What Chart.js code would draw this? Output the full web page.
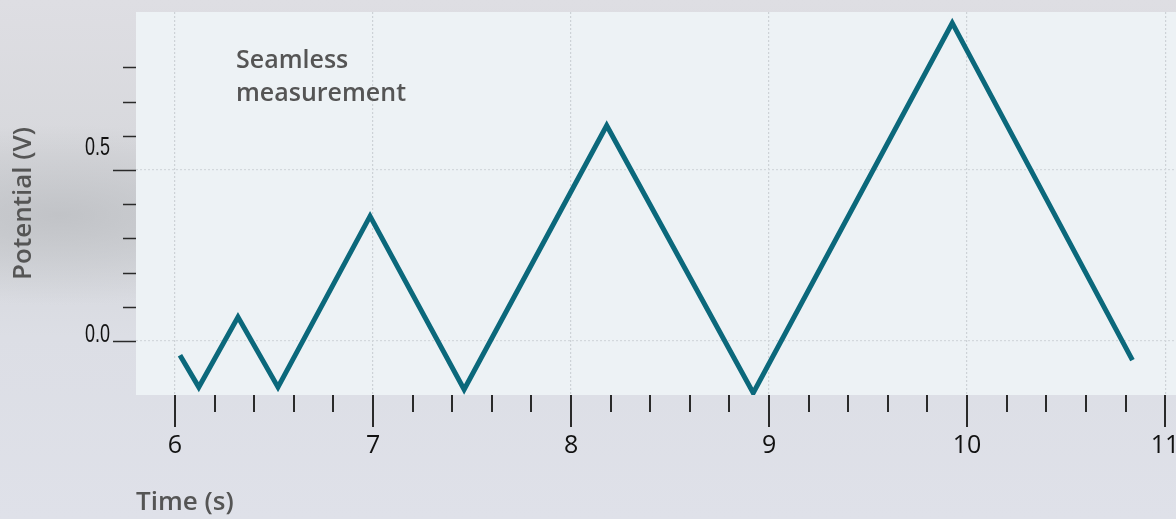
<!DOCTYPE html>
<html>
<head>
<meta charset="utf-8">
<script src="https://cdn.jsdelivr.net/npm/chart.js@4.4.1/dist/chart.umd.min.js"></script>
<style>
  html, body { margin: 0; padding: 0; }
  body {
    width: 1176px; height: 519px; overflow: hidden;
    background:
      radial-gradient(ellipse 260px 90px at 60px 215px, rgba(188,190,194,0.8), rgba(188,190,194,0) 100%),
      linear-gradient(to bottom, #dedee3 0%, #d7d8dc 30%, #d5d7db 45%, #dcdee5 65%, #dfe1e9 100%);
  }
  #wrap { position: relative; width: 1176px; height: 519px; }
</style>
</head>
<body>
<div id="wrap"><canvas id="chart" width="1176" height="519"></canvas></div>
<script>
// time (s) and potential (V)
const timeValues = [6.025, 6.12, 6.318, 6.52, 6.985, 7.46, 8.18, 8.92, 9.925, 10.835];
const potentialValues = [-0.042, -0.135, 0.07, -0.135, 0.365, -0.142, 0.63, -0.152, 0.93, -0.056];

const xTickValues = [6, 6.2, 6.4, 6.6, 6.8, 7, 7.2, 7.4, 7.6, 7.8, 8, 8.2, 8.4, 8.6, 8.8, 9,
                     9.2, 9.4, 9.6, 9.8, 10, 10.2, 10.4, 10.6, 10.8, 11];
const xMajorTicks = [6, 7, 8, 9, 10, 11];
const yTickValues = [0, 0.1, 0.2, 0.3, 0.4, 0.5, 0.6, 0.7, 0.8];
const yMajorTicks = [0, 0.5];
const yTickLabels = ['0.0', '0.5'];
const noteLines = ['Seamless', 'measurement'];

const isMajor = (list, v) => list.some(m => Math.abs(m - v) < 1e-6);

const plotBackground = {
  id: 'plotBackground',
  beforeDraw(chart) {
    const { ctx, chartArea: a } = chart;
    ctx.save();
    ctx.fillStyle = '#edf2f5';
    ctx.fillRect(a.left, a.top, a.right - a.left, a.bottom - a.top);
    ctx.restore();
  }
};

const axisMarks = {
  id: 'axisMarks',
  afterDraw(chart) {
    const { ctx, chartArea: a, scales } = chart;
    const x = scales.x, y = scales.y;
    ctx.save();
    ctx.strokeStyle = '#2a2a2a';
    // x ticks under the plot
    ctx.lineWidth = 2;
    xTickValues.forEach(v => {
      const px = Math.round(x.getPixelForValue(v));
      const len = isMajor(xMajorTicks, v) ? 32 : 17;
      ctx.beginPath();
      ctx.moveTo(px, a.bottom);
      ctx.lineTo(px, a.bottom + len);
      ctx.stroke();
    });
    // y ticks left of the plot
    ctx.lineWidth = 1.5;
    yTickValues.forEach(v => {
      const py = Math.round(y.getPixelForValue(v)) + 0.5;
      const len = isMajor(yMajorTicks, v) ? 23 : 13;
      ctx.beginPath();
      ctx.moveTo(a.left - len, py);
      ctx.lineTo(a.left, py);
      ctx.stroke();
    });
    // y labels in a condensed face, sitting a little above their ticks
    ctx.fillStyle = '#111';
    ctx.font = '25px "Liberation Sans", sans-serif';
    ctx.textAlign = 'right';
    ctx.textBaseline = 'middle';
    const lift = [6, 22];
    yMajorTicks.forEach((v, i) => {
      ctx.save();
      ctx.translate(a.left - 26, y.getPixelForValue(v) - lift[i]);
      ctx.scale(0.72, 1);
      ctx.fillText(yTickLabels[i], 0, 0);
      ctx.restore();
    });
    // note in the plot
    ctx.fillStyle = '#555555';
    ctx.font = '600 25px "Open Sans", sans-serif';
    ctx.textAlign = 'left';
    ctx.textBaseline = 'middle';
    noteLines.forEach((t, i) => ctx.fillText(t, a.left + 100, a.top + 49 + i * 33));
    ctx.restore();
  }
};

new Chart(document.getElementById('chart'), {
  type: 'line',
  data: {
    datasets: [{
      data: timeValues.map((t, i) => ({ x: t, y: potentialValues[i] })),
      borderColor: '#0b687b',
      borderWidth: 5,
      pointRadius: 0,
      tension: 0,
      fill: false,
      borderJoinStyle: 'miter'
    }]
  },
  options: {
    responsive: false,
    animation: false,
    layout: { padding: { top: 12, left: 0, right: 0, bottom: 0 } },
    plugins: { legend: { display: false }, tooltip: { enabled: false } },
    scales: {
      x: {
        type: 'linear',
        min: 5.803,
        max: 11.055,
        afterBuildTicks: s => { s.ticks = xTickValues.map(v => ({ value: v })); },
        afterFit: s => { s.height = 124; s.paddingLeft = 0; s.paddingRight = 0; },
        border: { display: false, dash: [2, 2] },
        grid: {
          drawTicks: false,
          color: c => isMajor(xMajorTicks, c.tick.value) ? '#cdd2d6' : 'rgba(0,0,0,0)',
          lineWidth: 1.2
        },
        ticks: {
          autoSkip: false,
          maxRotation: 0,
          padding: 36,
          color: '#111',
          font: { family: '"Open Sans", sans-serif', size: 25 },
          callback: v => isMajor(xMajorTicks, v) ? String(Math.round(v)) : ''
        },
        title: {
          display: true,
          text: 'Time (s)',
          align: 'start',
          color: '#555555',
          font: { family: '"Open Sans", sans-serif', size: 26, weight: '600' },
          padding: { top: 0, bottom: 1 }
        }
      },
      y: {
        type: 'linear',
        min: -0.158,
        max: 0.962,
        afterBuildTicks: s => { s.ticks = yTickValues.map(v => ({ value: v })); },
        afterFit: s => { s.width = 136; s.paddingTop = 0; s.paddingBottom = 0; },
        border: { display: false, dash: [2, 2] },
        grid: {
          drawTicks: false,
          color: c => isMajor(yMajorTicks, c.tick.value) ? '#d3d8dc' : 'rgba(0,0,0,0)',
          lineWidth: 1.2
        },
        ticks: { display: false },
        title: {
          display: true,
          text: 'Potential (V)',
          color: '#555555',
          font: { family: '"Open Sans", sans-serif', size: 26, weight: '600' },
          padding: { top: 8, bottom: 0 }
        }
      }
    }
  },
  plugins: [plotBackground, axisMarks]
});
</script>
</body>
</html>
